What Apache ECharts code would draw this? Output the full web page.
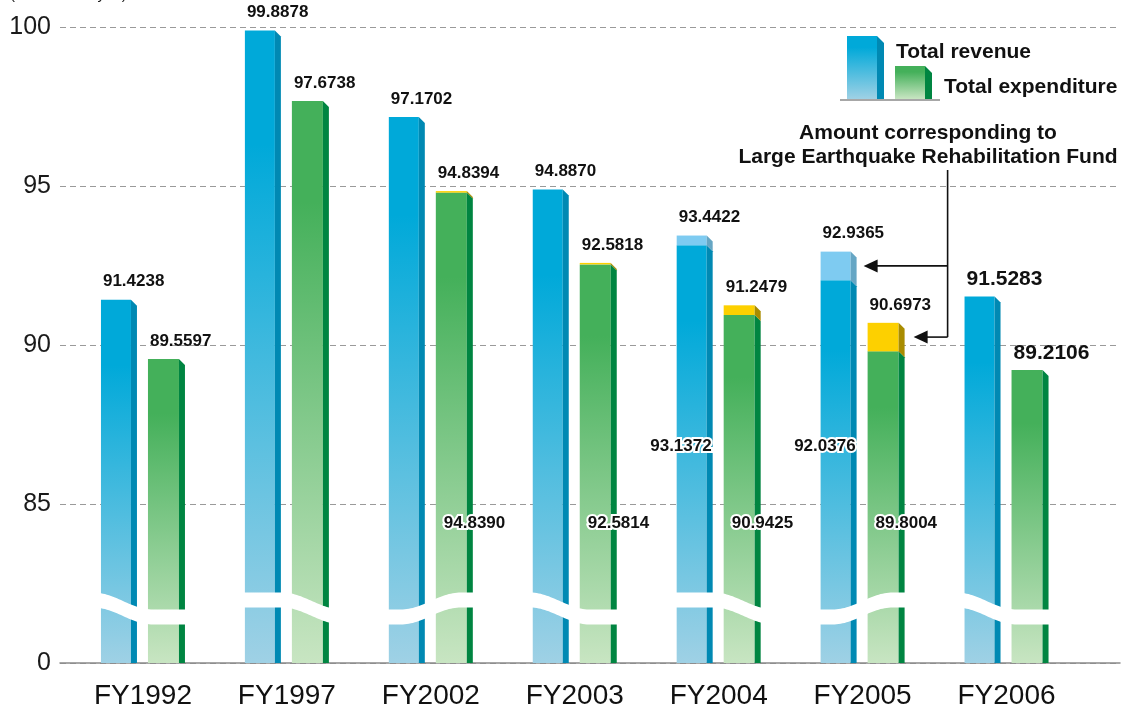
<!DOCTYPE html>
<html>
<head>
<meta charset="utf-8">
<script src="https://cdn.jsdelivr.net/npm/echarts@6.0.0/dist/echarts.min.js"></script>
<style>
html,body{margin:0;padding:0;background:#fff;}
#chart{width:1121px;height:711px;}
</style>
</head>
<body>
<div id="chart"></div>
<script>
// ---- data ----
const categories = ['FY1992', 'FY1997', 'FY2002', 'FY2003', 'FY2004', 'FY2005', 'FY2006'];
const revenueTotal = [91.4238, 99.8878, 97.1702, 94.8870, 93.4422, 92.9365, 91.5283];
const revenueExFund = [0, 0, 0, 0, 93.1372, 92.0376, 0];       // 0 = no fund portion
const expenditureTotal = [89.5597, 97.6738, 94.8394, 92.5818, 91.2479, 90.6973, 89.2106];
const expenditureExFund = [0, 0, 94.8390, 92.5814, 90.9425, 89.8004, 0];
const axisBase = 80;                       // broken axis: bottom of the scale shown as "0"
const axisTop = 100;
const tickStep = 5;
const tickLabelAtBase = '0';
const unitText = '(Unit : trillion yen)';
const legendNames = ['Total revenue', 'Total expenditure'];
const noteLines = ['Amount corresponding to', 'Large Earthquake Rehabilitation Fund'];
const noteCategory = 5;

// ---- style constants ----
const FONT = '"Liberation Sans", Arial, Helvetica, sans-serif';
const waveDir = [1, 1, -1, 1, 1, -1, 1];
const waveShift = [-50, -5, -30, -45, -5, -30, -50];
const REV = {off: -42, w: 30, c0: '#00a9d9', c1: '#9fd1e5', side: '#0089b3', fundFront: '#7ecbf1', fundSide: '#66a6c4'};
const EXP = {off: 5, w: 31, c0: '#44b05a', c1: '#c8e5c2', side: '#008541', fundFront: '#fdd000', fundSide: '#a98c00'};
const DEPTH = 6;

function grad(c0, c1) {
  return new echarts.graphic.LinearGradient(0, 0, 0, 1, [
    {offset: 0, color: c0}, {offset: 0.18, color: c0}, {offset: 1, color: c1}
  ]);
}

function barRenderer(cfg, isRev) {
  return function (params, api) {
    const i = api.value(0);
    const total = api.value(1);
    const ex = api.value(2);
    const pB = api.coord([i, axisBase]);
    const pT = api.coord([i, total]);
    const cx = pB[0];
    const L = cx + cfg.off, R = L + cfg.w;
    const yB = pB[1], yT = pT[1];
    const hasFund = ex > 0;
    let yM = yT;
    if (hasFund) {
      yM = api.coord([i, ex])[1];
      if (yM - yT < 1.5) yM = yT + 1.5;
    }
    const ch = [];
    ch.push({type: 'rect', shape: {x: L, y: yM, width: cfg.w, height: yB - yM},
      style: {fill: grad(cfg.c0, cfg.c1)}});
    ch.push({type: 'polygon', shape: {points: [[R, yM], [R + DEPTH, yM + DEPTH], [R + DEPTH, yB], [R, yB]]},
      style: {fill: cfg.side}});
    if (hasFund) {
      ch.push({type: 'rect', shape: {x: L, y: yT, width: cfg.w, height: yM - yT},
        style: {fill: cfg.fundFront}});
      ch.push({type: 'polygon', shape: {points: [[R, yT], [R + DEPTH, yT + DEPTH], [R + DEPTH, yM + DEPTH], [R, yM]]},
        style: {fill: cfg.fundSide}});
    }
    const big = i === categories.length - 1;
    ch.push({type: 'text', z2: 20, style: {
      text: total.toFixed(4), x: L + 2, y: yT - (big ? 17 : 18),
      align: 'left', verticalAlign: 'middle',
      font: 'bold ' + (big ? 21 : 17) + 'px ' + FONT, fill: '#111'
    }});
    if (hasFund) {
      const ly = api.coord([i, isRev ? 86.8 : 84.4])[1];
      ch.push({type: 'text', z2: 20, style: {
        text: ex.toFixed(4), x: isRev ? R + DEPTH - 1 : L + 8, y: ly,
        align: isRev ? 'right' : 'left', verticalAlign: 'middle',
        font: 'bold 17px ' + FONT, fill: '#111', stroke: '#fff', lineWidth: 4
      }});
    }
    return {type: 'group', children: ch};
  };
}

function waveRenderer(params, api) {
  const i = api.value(0);
  const p = api.coord([i, axisBase]);
  const cx = p[0], yB = p[1];
  const mid = yB - 62, A = 8.5, T = 15;
  const dir = waveDir[i], x0 = cx + waveShift[i];
  const top = [], bot = [];
  for (let x = cx - 50; x <= cx + 50; x += 2) {
    let t = (x - x0) / 60; t = Math.max(0, Math.min(1, t));
    const y = mid - dir * A * Math.cos(Math.PI * t);
    top.push([x, y]);
    bot.unshift([x, y + T]);
  }
  return {type: 'polygon', shape: {points: top.concat(bot)}, style: {fill: '#fff'}};
}

const revData = categories.map((c, i) => [i, revenueTotal[i], revenueExFund[i]]);
const expData = categories.map((c, i) => [i, expenditureTotal[i], expenditureExFund[i]]);

const chart = echarts.init(document.getElementById('chart'), null, {renderer: 'canvas'});
const option = {
  animation: false,
  backgroundColor: '#fff',
  grid: [
    {left: 60, right: 1, top: 27, bottom: 48},
    {left: 71, width: 1007.5, top: 27, bottom: 48}
  ],
  xAxis: [
    {type: 'value', gridIndex: 0, min: 0, max: 1, axisLabel: {show: false}, axisTick: {show: false},
      splitLine: {show: false}, axisLine: {show: true, onZero: false, lineStyle: {color: '#8a8a8a', width: 1.5}}},
    {type: 'category', gridIndex: 1, data: categories, axisLine: {show: false}, axisTick: {show: false},
      axisLabel: {fontSize: 28, color: '#111', fontFamily: FONT, margin: 19}}
  ],
  yAxis: [
    {type: 'value', gridIndex: 0, min: axisBase, max: axisTop, interval: tickStep,
      axisLine: {show: false}, axisTick: {show: false},
      axisLabel: {fontSize: 25, color: '#1a1a1a', fontFamily: FONT, margin: 9,
        formatter: v => v === axisBase ? tickLabelAtBase : String(v)},
      splitLine: {show: true, lineStyle: {color: '#9a9a9a', width: 1, type: [6, 4]}}},
    {type: 'value', gridIndex: 1, min: axisBase, max: axisTop, show: false}
  ],
  series: [
    {type: 'custom', name: legendNames[0], xAxisIndex: 1, yAxisIndex: 1, data: revData,
      encode: {x: 0, y: 1}, renderItem: barRenderer(REV, true), z: 3},
    {type: 'custom', name: legendNames[1], xAxisIndex: 1, yAxisIndex: 1, data: expData,
      encode: {x: 0, y: 1}, renderItem: barRenderer(EXP, false), z: 3},
    {type: 'custom', name: 'break', xAxisIndex: 1, yAxisIndex: 1, data: categories.map((c, i) => [i]),
      encode: {x: 0}, renderItem: waveRenderer, z: 5, silent: true}
  ]
};
chart.setOption(option);

// ---- legend, unit, annotation (decorations) ----
const revMid = chart.convertToPixel({xAxisIndex: 1, yAxisIndex: 1},
  [noteCategory, (revenueTotal[noteCategory] + revenueExFund[noteCategory]) / 2]);
const expMid = chart.convertToPixel({xAxisIndex: 1, yAxisIndex: 1},
  [noteCategory, (expenditureTotal[noteCategory] + expenditureExFund[noteCategory]) / 2]);
const ncx = revMid[0];
const vx = ncx + 85;
const tip1 = ncx + REV.off + REV.w + DEPTH + 7;
const tip2 = ncx + EXP.off + EXP.w + DEPTH + 9;
const lineStyle = {stroke: '#111', lineWidth: 1.6};
function arrowHead(x, y) {
  return {type: 'polygon', shape: {points: [[x, y], [x + 14, y - 6.5], [x + 14, y + 6.5]]}, style: {fill: '#111'}};
}

chart.setOption({
  graphic: [
    {type: 'text', left: 10, top: -13, style: {text: unitText, font: '15px ' + FONT, fill: '#222'}},
    // legend icons
    {type: 'rect', shape: {x: 847, y: 36, width: 30, height: 63}, style: {fill: grad(REV.c0, REV.c1)}},
    {type: 'polygon', shape: {points: [[877, 36], [884, 43], [884, 99], [877, 99]]}, style: {fill: REV.side}},
    {type: 'rect', shape: {x: 895, y: 66, width: 30, height: 33}, style: {fill: grad(EXP.c0, EXP.c1)}},
    {type: 'polygon', shape: {points: [[925, 66], [932, 73], [932, 99], [925, 99]]}, style: {fill: EXP.side}},
    {type: 'line', shape: {x1: 840, y1: 100, x2: 940, y2: 100}, style: {stroke: '#8a8a8a', lineWidth: 1.5}},
    {type: 'text', x: 896, y: 52, style: {text: legendNames[0], font: 'bold 21px ' + FONT, fill: '#111', verticalAlign: 'middle'}},
    {type: 'text', x: 944, y: 87, style: {text: legendNames[1], font: 'bold 21px ' + FONT, fill: '#111', verticalAlign: 'middle'}},
    // annotation
    {type: 'text', x: 928, y: 133, style: {text: noteLines[0], font: 'bold 21px ' + FONT, fill: '#111', align: 'center', verticalAlign: 'middle'}},
    {type: 'text', x: 928, y: 157, style: {text: noteLines[1], font: 'bold 21px ' + FONT, fill: '#111', align: 'center', verticalAlign: 'middle'}},
    {type: 'line', shape: {x1: vx, y1: 170, x2: vx, y2: expMid[1]}, style: lineStyle},
    {type: 'line', shape: {x1: vx, y1: revMid[1], x2: tip1 + 10, y2: revMid[1]}, style: lineStyle},
    {type: 'line', shape: {x1: vx, y1: expMid[1], x2: tip2 + 10, y2: expMid[1]}, style: lineStyle},
    arrowHead(tip1, revMid[1]),
    arrowHead(tip2, expMid[1])
  ]
});
</script>
</body>
</html>
